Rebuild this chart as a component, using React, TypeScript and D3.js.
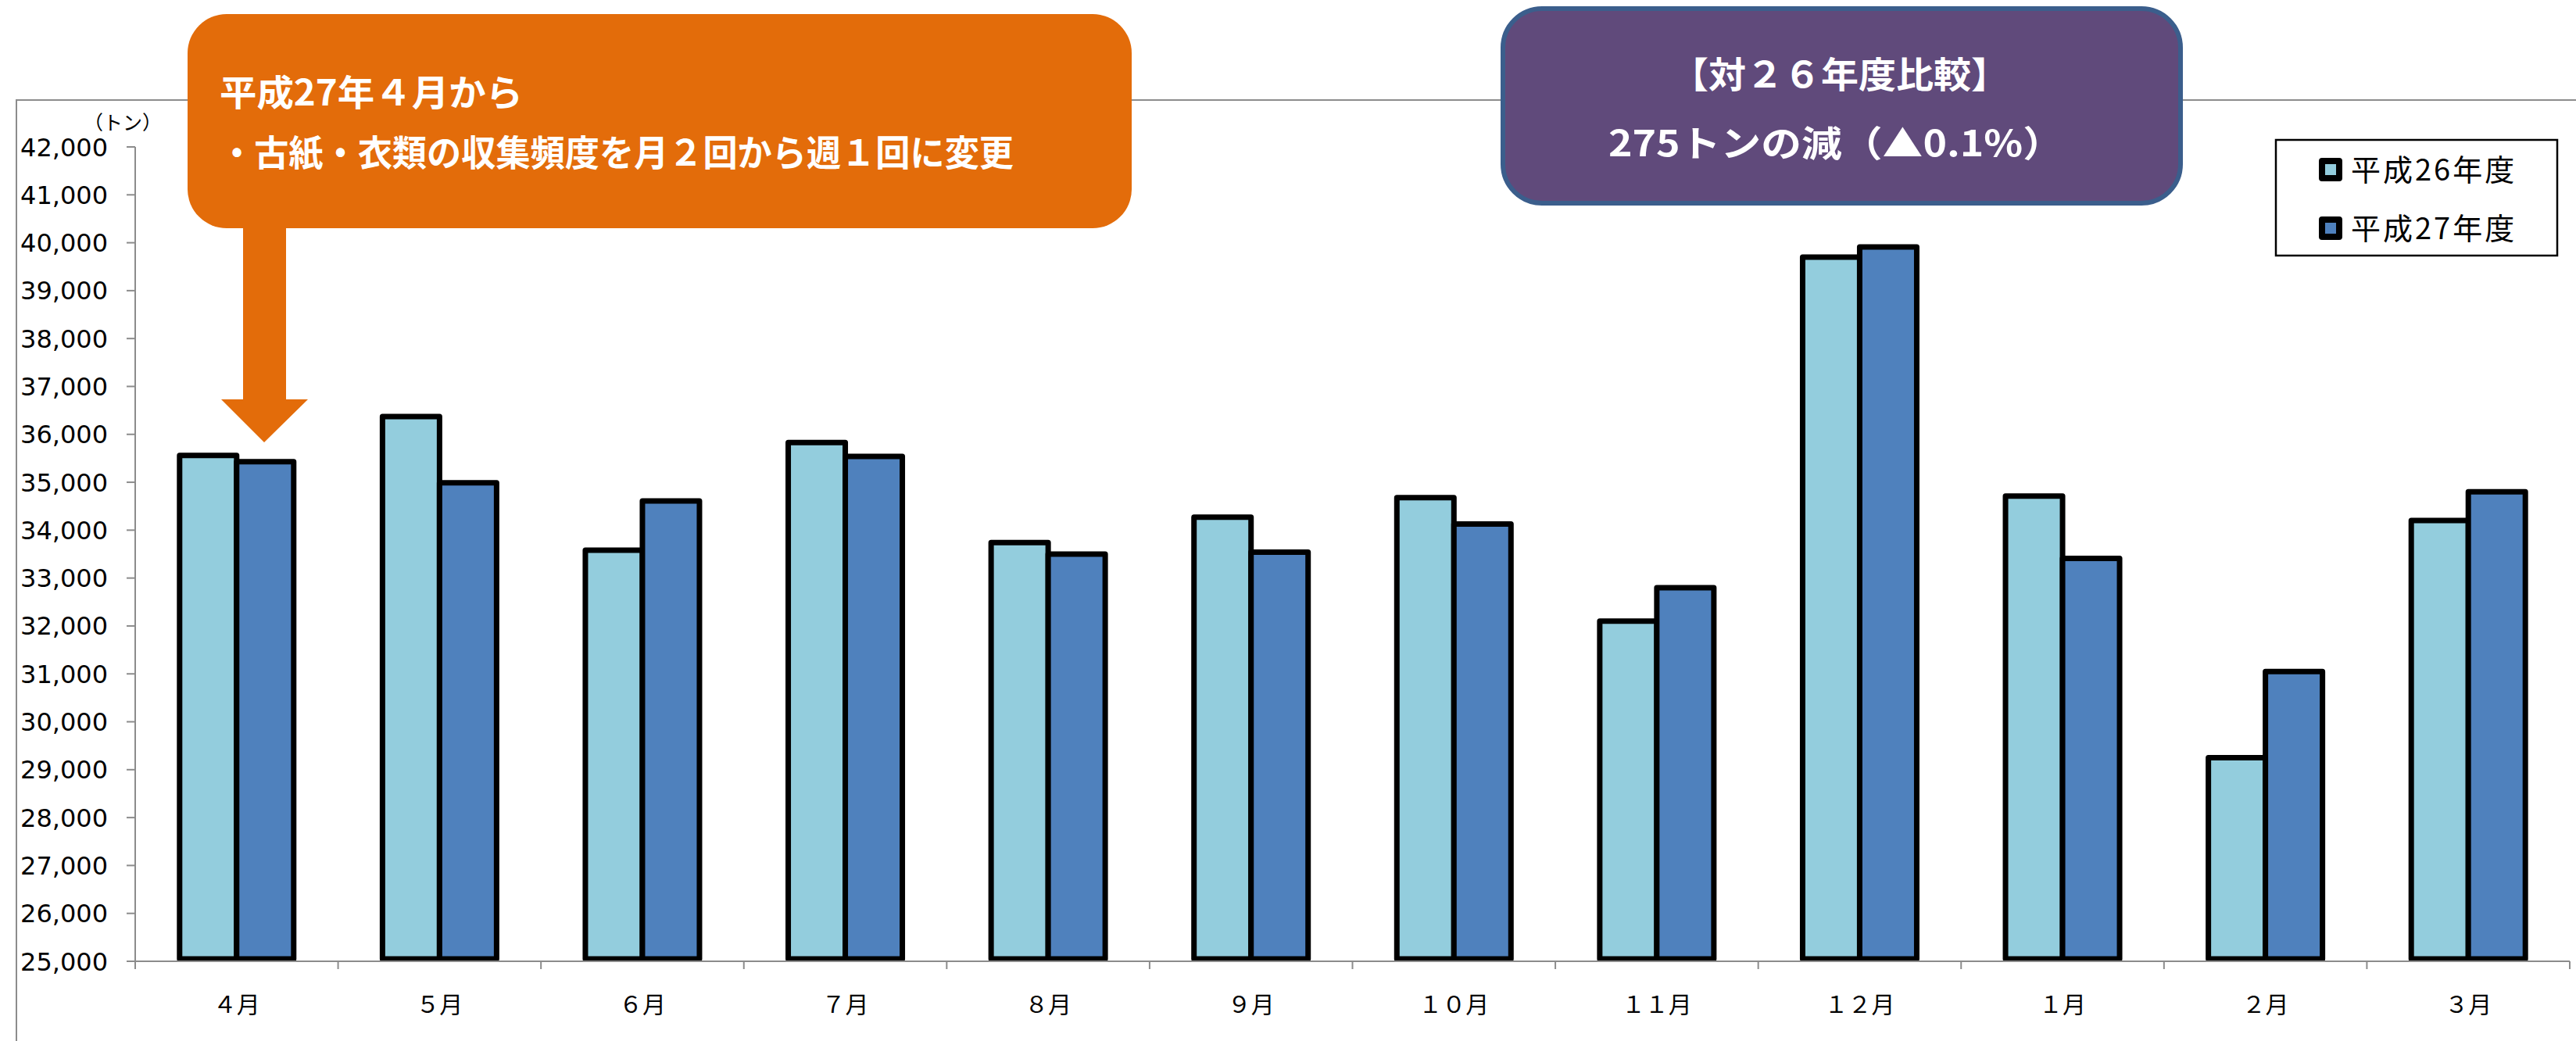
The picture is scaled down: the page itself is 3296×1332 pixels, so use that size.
import { useEffect, useRef } from 'react';
import * as d3 from 'd3';

// months (fiscal year order)
const months = ['４月', '５月', '６月', '７月', '８月', '９月', '１０月', '１１月', '１２月', '１月', '２月', '３月'];
const seriesNames = ['平成26年度', '平成27年度'];
const h26 = [35560, 36370, 33580, 35830, 33740, 34270, 34680, 32100, 39700, 34710, 29250, 34200];
const h27 = [35430, 34990, 34610, 35540, 33500, 33540, 34130, 32800, 39910, 33410, 31050, 34800];
const seriesColors = ['#93CDDD', '#4F81BD'];
const yTicks = [25000, 26000, 27000, 28000, 29000, 30000, 31000, 32000, 33000, 34000, 35000, 36000, 37000, 38000, 39000, 40000, 41000, 42000];

const noteLines = ['平成27年４月から', '・古紙・衣類の収集頻度を月２回から週１回に変更'];
const compareLines = ['【対２６年度比較】', '275トンの減（▲0.1%）'];

const W = 3296;
const H = 1332;
const CJK = '"Noto Sans CJK JP", "Noto Sans", sans-serif';

export default function App() {
    const svgRef = useRef(null);

    useEffect(() => {
        if (!svgRef.current) return;
        const svg = d3.select(svgRef.current);
        svg.selectAll('*').remove();

        const left = 173;
        const right = 3288;
        const top = 188;
        const bottom = 1230;

        const x0 = d3.scaleBand().domain(months).range([left, right]).padding(0);
        const groupW = 146;
        const x1 = d3.scaleBand().domain(seriesNames).range([0, groupW]).padding(0);
        const y = d3.scaleLinear().domain([25000, 42000]).range([bottom, top]);

        // outer chart frame
        svg.append('path')
            .attr('d', `M21,${H + 5} L21,128 L${W + 5},128`)
            .attr('fill', 'none')
            .attr('stroke', '#8c8c8c')
            .attr('stroke-width', 2);

        // bars
        const rows = months.map((m, i) => ({ m, vals: [h26[i], h27[i]] }));
        const groups = svg.append('g')
            .selectAll('g')
            .data(rows)
            .join('g')
            .attr('transform', (d) => `translate(${x0(d.m) + (x0.bandwidth() - groupW) / 2},0)`);

        groups.selectAll('rect')
            .data((d) => d.vals.map((v, j) => ({ v, s: seriesNames[j], c: seriesColors[j] })))
            .join('rect')
            .attr('x', (d) => x1(d.s))
            .attr('width', x1.bandwidth())
            .attr('y', (d) => y(d.v))
            .attr('height', (d) => bottom - 3 - y(d.v))
            .attr('fill', (d) => d.c)
            .attr('stroke', '#000')
            .attr('stroke-width', 7)
            .attr('stroke-linejoin', 'round');

        // y axis
        const ya = svg.append('g').attr('stroke', '#8c8c8c').attr('stroke-width', 2);
        ya.append('line').attr('x1', left).attr('x2', left).attr('y1', top).attr('y2', bottom + 9);
        ya.selectAll('line.t')
            .data(yTicks)
            .join('line')
            .attr('class', 't')
            .attr('x1', left - 11)
            .attr('x2', left)
            .attr('y1', (d) => y(d))
            .attr('y2', (d) => y(d));

        svg.append('g')
            .selectAll('text')
            .data(yTicks)
            .join('text')
            .attr('x', 138)
            .attr('y', (d) => y(d))
            .attr('dy', '0.36em')
            .attr('text-anchor', 'end')
            .attr('font-family', '"DejaVu Sans", sans-serif')
            .attr('font-size', 32)
            .attr('fill', '#000')
            .text((d) => d3.format(',')(d));

        svg.append('text')
            .attr('x', 157)
            .attr('y', 157)
            .attr('dy', '0.35em')
            .attr('text-anchor', 'middle')
            .attr('font-family', CJK)
            .attr('font-size', 25)
            .text('（トン）');

        // x axis
        const xa = svg.append('g').attr('stroke', '#8c8c8c').attr('stroke-width', 2);
        xa.append('line').attr('x1', left).attr('x2', right).attr('y1', bottom).attr('y2', bottom);
        const bounds = months.map((m) => x0(m)).concat([right]);
        xa.selectAll('line.t')
            .data(bounds)
            .join('line')
            .attr('class', 't')
            .attr('x1', (d) => d)
            .attr('x2', (d) => d)
            .attr('y1', bottom)
            .attr('y2', bottom + 10);

        svg.append('g')
            .selectAll('text')
            .data(months)
            .join('text')
            .attr('x', (d) => x0(d) + x0.bandwidth() / 2)
            .attr('y', 1285)
            .attr('dy', '0.35em')
            .attr('text-anchor', 'middle')
            .attr('font-family', CJK)
            .attr('font-size', 30)
            .attr('fill', '#000')
            .text((d) => d);

        // legend
        const lg = svg.append('g');
        lg.append('rect')
            .attr('x', 2912).attr('y', 179).attr('width', 360).attr('height', 148)
            .attr('fill', '#fff').attr('stroke', '#000').attr('stroke-width', 2.5);
        seriesNames.forEach((s, i) => {
            const cy = 217 + i * 75;
            lg.append('rect')
                .attr('x', 2971).attr('y', cy - 11).attr('width', 22).attr('height', 22)
                .attr('fill', seriesColors[i]).attr('stroke', '#000').attr('stroke-width', 8)
                .attr('stroke-linejoin', 'round');
            lg.append('text')
                .attr('x', 3008).attr('y', cy).attr('dy', '0.36em')
                .attr('font-family', CJK).attr('font-size', 38)
                .attr('letter-spacing', 3)
                .text(s);
        });

        // orange callout with arrow
        const orange = '#E36C0A';
        svg.append('rect')
            .attr('x', 240).attr('y', 18).attr('width', 1208).attr('height', 274)
            .attr('rx', 50).attr('fill', orange);
        svg.append('path')
            .attr('d', 'M311,290 L366,290 L366,511 L394,511 L338,566 L283,511 L311,511 Z')
            .attr('fill', orange);
        const noteLen = [388, 1016];
        noteLines.forEach((t, i) => {
            svg.append('text')
                .attr('x', 281).attr('y', i === 0 ? 118 : 195).attr('dy', '0.36em')
                .attr('font-family', CJK).attr('font-weight', 700)
                .attr('font-size', 46)
                .attr('textLength', noteLen[i])
                .attr('lengthAdjust', 'spacingAndGlyphs')
                .attr('fill', '#fff')
                .text(t);
        });

        // purple comparison box
        svg.append('rect')
            .attr('x', 1923).attr('y', 11).attr('width', 867).attr('height', 249)
            .attr('rx', 50).attr('fill', '#604A7B')
            .attr('stroke', '#3B5E8C').attr('stroke-width', 6);
        const cmp = [
            { x: 2138, y: 95, len: 432 },
            { x: 2058, y: 183, len: 582 },
        ];
        compareLines.forEach((t, i) => {
            svg.append('text')
                .attr('x', cmp[i].x).attr('y', cmp[i].y).attr('dy', '0.36em')
                .attr('font-family', CJK).attr('font-weight', 700)
                .attr('font-size', 46)
                .attr('textLength', cmp[i].len)
                .attr('lengthAdjust', 'spacingAndGlyphs')
                .attr('fill', '#fff')
                .text(t);
        });
    }, []);

    return (
        <div style={{ position: 'absolute', left: 0, top: 0 }}>
            <svg ref={svgRef} width={W} height={H} style={{ display: 'block', background: '#fff' }} />
        </div>
    );
}
